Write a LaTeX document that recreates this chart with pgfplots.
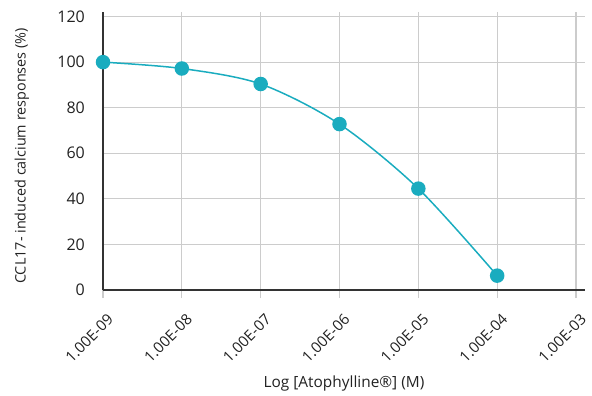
\documentclass[border=0pt]{standalone}
\usepackage{fontspec}
\setmainfont{Open Sans}
\usepackage{pgfplots}
\pgfplotsset{compat=1.18}
\definecolor{teal1}{RGB}{26,172,191}
\definecolor{gridg}{RGB}{204,204,204}
\definecolor{txt}{RGB}{34,34,34}
\begin{document}
\begin{tikzpicture}
\useasboundingbox (-103pt,-106pt) rectangle (489pt,290pt);
\begin{axis}[
  at={(0,0)}, anchor=south west,
  scale only axis, width=482pt, height=278pt,
  xmin=-9, xmax=-2.886, ymin=0, ymax=122,
  axis lines*=left,
  axis line style={draw=black!80, line width=1.3pt},
  xtick={-9,-8,-7,-6,-5,-4,-3},
  xticklabels={1.00E-09,1.00E-08,1.00E-07,1.00E-06,1.00E-05,1.00E-04,1.00E-03},
  ytick={0,20,40,60,80,100,120},
  grid=major,
  major grid style={draw=gridg, line width=1.2pt},
  xtick align=outside,
  x tick style={draw=gridg, line width=1.2pt},
  major tick length=8pt,
  y tick style={draw=none},
  /pgf/number format/assume math mode=true,
  yticklabel style={font=\fontsize{16}{18}\selectfont, text=txt, anchor=east, inner sep=0pt, xshift=-18pt},
  xticklabel style={font=\fontsize{15}{17}\selectfont, text=txt, rotate=45, anchor=north east, inner sep=0pt, xshift=-8pt, yshift=-13pt},
  xlabel={Log [Atophylline®] (M)},
  ylabel={CCL17- induced calcium responses (\%)},
  xlabel style={font=\fontsize{15.4}{17}\selectfont, text=txt, at={([yshift=-93pt]axis description cs:0.5,0)}, anchor=center},
  ylabel style={font=\fontsize{14.4}{16}\selectfont, text=txt, at={([xshift=-81pt, yshift=-5pt]axis description cs:0,0.5)}, anchor=center},
  clip=false,
]
\addplot[color=teal1, line width=1.5pt, smooth, mark=*, mark size=6.5pt, mark options={fill=teal1, draw=teal1}]
coordinates {(-9,100) (-8,97.2) (-7,90.4) (-6,72.8) (-5,44.5) (-4,6.3)};
\end{axis}
\end{tikzpicture}
\end{document}
